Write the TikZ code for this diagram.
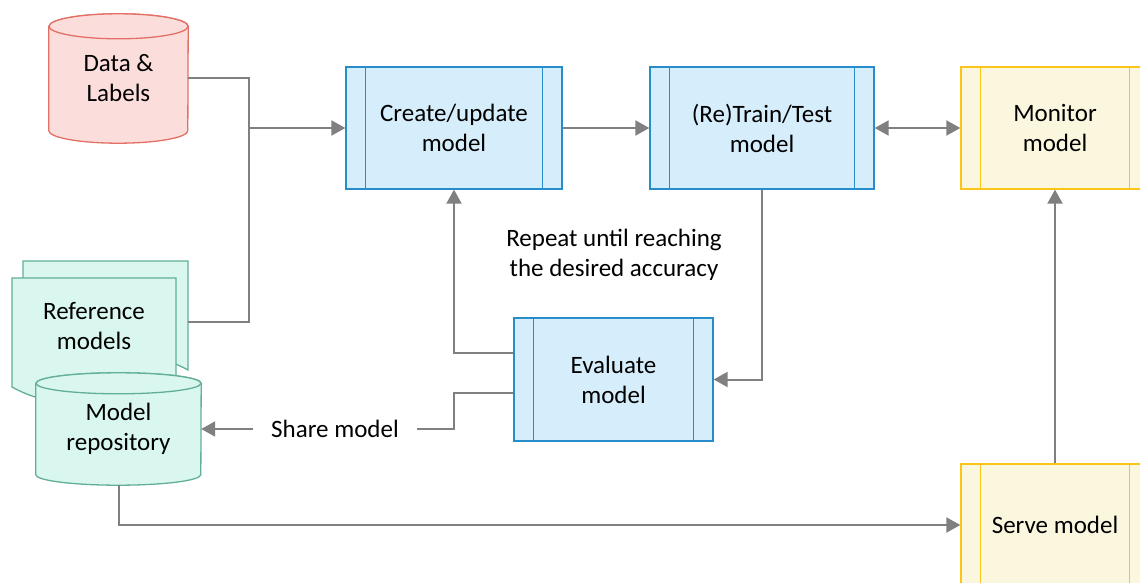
\documentclass[tikz,border=0pt]{standalone}
\usepackage{fontspec}
\setmainfont{Carlito}
\usetikzlibrary{arrows.meta,backgrounds,calc}
\definecolor{arrowgray}{RGB}{128,128,128}
\definecolor{bluefill}{RGB}{214,238,252}
\definecolor{bluestroke}{RGB}{38,140,202}
\definecolor{yellowfill}{RGB}{251,246,222}
\definecolor{yellowstroke}{RGB}{250,196,24}
\definecolor{redfill}{RGB}{251,222,220}
\definecolor{redstroke}{RGB}{226,112,102}
\definecolor{tealfill}{RGB}{217,247,238}
\definecolor{tealstroke}{RGB}{98,174,152}
\begin{document}
\begin{tikzpicture}[x=1pt,y=-1pt,
  txt/.style={font=\fontsize{25}{30}\selectfont, align=center, text=black, inner sep=0pt},
  conn/.style={draw=arrowgray, line width=2pt},
  flow/.style={conn, -{Triangle[length=14pt,width=15pt]}},
  twoway/.style={conn, {Triangle[length=14pt,width=15pt]}-{Triangle[length=14pt,width=15pt]}},
  proc/.style={txt, rectangle, line width=1.3pt, minimum height=122pt},
  blueproc/.style={proc, draw=bluestroke, fill=bluefill},
  yellowproc/.style={proc, draw=yellowstroke, fill=yellowfill},
  store/.style={txt, rectangle},
  redshape/.style={draw=redstroke, fill=redfill, line width=1.3pt},
  tealshape/.style={draw=tealstroke, fill=tealfill, line width=1.3pt},
]
\useasboundingbox (0,0) rectangle (1140,583);
\clip (0,0) rectangle (1140,583);

% ---------- process boxes ----------
\node[blueproc, minimum width=216pt] (create) at (454,128) {Create/update\\model};
\node[blueproc, minimum width=224pt] (train) at (762,128) {(Re)Train/Test\\model};
\node[blueproc, minimum width=199pt, minimum height=123pt] (evaluate) at (613.5,379.5) {Evaluate\\model};
\node[yellowproc, minimum width=188pt] (monitor) at (1055,128) {Monitor\\model};
\node[yellowproc, minimum width=188pt] (serve) at (1055,525) {Serve model};

\foreach \n/\c in {create/bluestroke, train/bluestroke, evaluate/bluestroke,
                   monitor/yellowstroke, serve/yellowstroke}
  \draw[\c, line width=1.3pt]
    ([xshift=20pt]\n.north west) -- ([xshift=20pt]\n.south west)
    ([xshift=-20pt]\n.north east) -- ([xshift=-20pt]\n.south east);

% ---------- stores ----------
\node[store, minimum width=139pt, minimum height=129pt] (data) at (118.5,78.5) {Data \&\\Labels};
\node[store, minimum width=164pt] (ref) at (94,326) {Reference\\models};
\node[store, minimum width=165pt, minimum height=112pt] (repo) at (118.5,429) {Model\\repository};
\coordinate (refout) at (188,322);

\begin{scope}[on background layer]
  % data cylinder
  \path[redshape] ([yshift=-12.5pt]data.north west) -- ([yshift=12.5pt]data.south west)
    arc[start angle=180, end angle=360, x radius=69.5pt, y radius=12.5pt]
    -- ([yshift=-12.5pt]data.north east)
    arc[start angle=0, end angle=180, x radius=69.5pt, y radius=12.5pt] -- cycle;
  \draw[redshape] ([yshift=-12.5pt]data.north) ellipse[x radius=69.5pt, y radius=12.5pt];
  % stacked documents
  \path[tealshape] (23,261) -- (188,261) -- (188,370)
    .. controls (105.5,325) and (105.5,415) .. (23,370) -- cycle;
  \path[tealshape] (12,278) -- (176,278) -- (176,387)
    .. controls (94,342) and (94,432) .. (12,387) -- cycle;
  % repository cylinder
  \path[tealshape] ([yshift=-10.5pt]repo.north west) -- ([yshift=10.5pt]repo.south west)
    arc[start angle=180, end angle=360, x radius=82.5pt, y radius=10.5pt]
    -- ([yshift=-10.5pt]repo.north east)
    arc[start angle=0, end angle=180, x radius=82.5pt, y radius=10.5pt] -- cycle;
  \draw[tealshape] ([yshift=-10.5pt]repo.north) ellipse[x radius=82.5pt, y radius=10.5pt];
\end{scope}

% ---------- labels ----------
\node[txt] (repeat) at (614,255) {Repeat until reaching\\the desired accuracy};
\node[txt, inner xsep=18pt] (share) at (335,429) {Share model};

% ---------- connectors ----------
\coordinate (merge) at (249,128);
\draw[conn] (data.east) -| (merge);
\draw[conn] (refout) -| (merge);
\draw[flow] (merge) -- (create.west);
\draw[flow] (create.east) -- (train.west);
\draw[twoway] (train.east) -- (monitor.west);
\draw[flow] (train.south) |- (evaluate.east);
\draw[flow] ([yshift=26.5pt]evaluate.west) -| (create.south);
\draw[conn] ([yshift=-13.5pt]evaluate.west) -- ([yshift=-13.5pt]evaluate.west -| create.south) |- (share.east);
\draw[flow] (share.west) -- (repo.east);
\draw[flow] (repo.south) |- (serve.west);
\draw[flow] (serve.north) -- (monitor.south);
\end{tikzpicture}
\end{document}
